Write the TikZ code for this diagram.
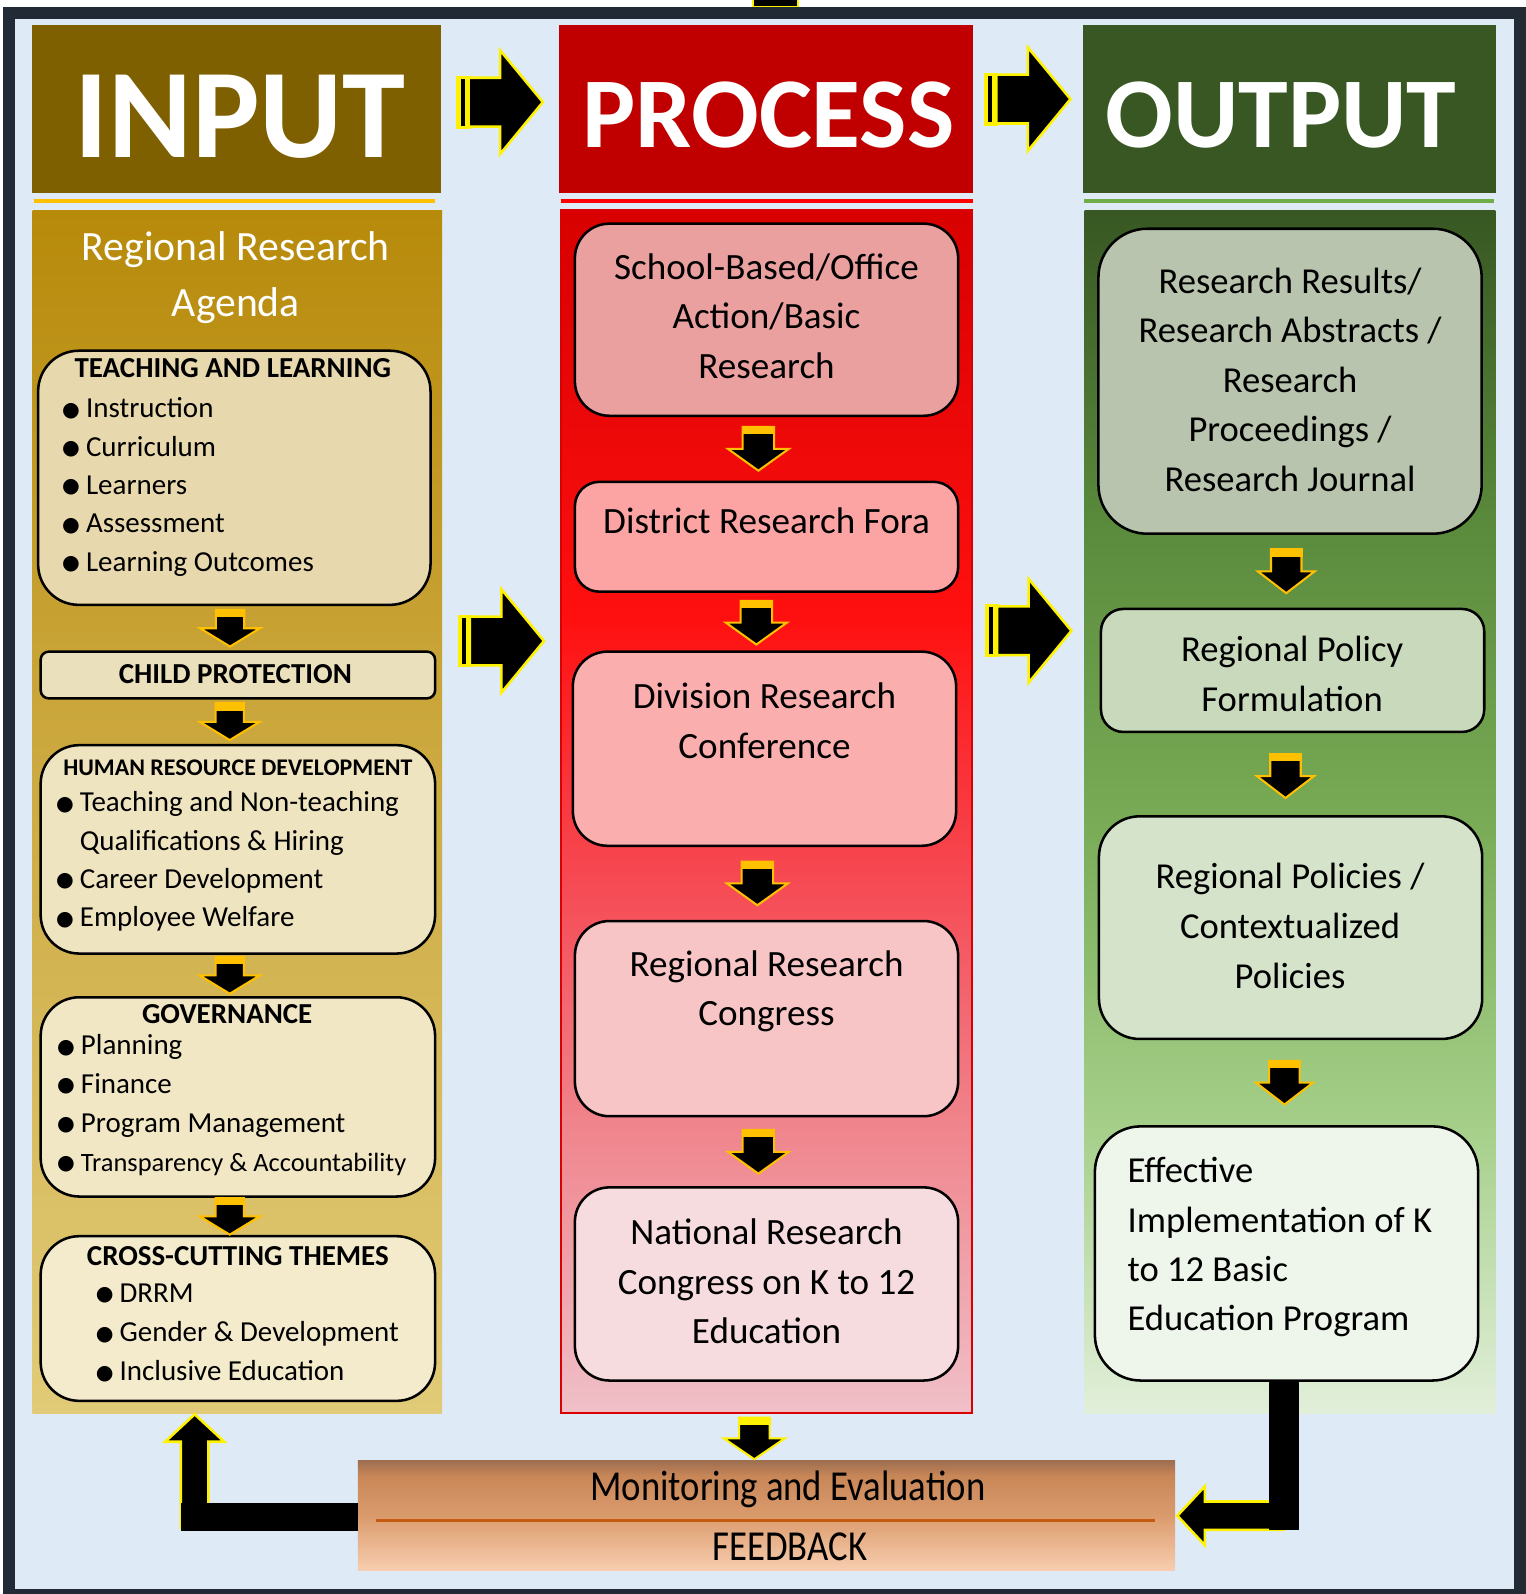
\documentclass[tikz,border=0pt]{standalone}
\usepackage{fontspec}
\setmainfont{Carlito}
\newfontfamily\dejavu{DejaVu Sans}
\usetikzlibrary{calc}

\definecolor{framegrey}{HTML}{222A35}
\definecolor{paleblue}{HTML}{DEEAF6}
\definecolor{gold}{HTML}{FFC000}
\definecolor{inhead}{HTML}{7F6000}
\definecolor{prochead}{HTML}{C00000}
\definecolor{outhead}{HTML}{385723}
\definecolor{procred}{HTML}{FF0000}
\definecolor{procrim}{HTML}{D80000}
\definecolor{outgreen}{HTML}{70AD47}
\definecolor{fbline}{HTML}{C55A11}
% column shadings
\definecolor{inbot}{HTML}{E1CB78}
\definecolor{inmid}{HTML}{CEAC45}
\definecolor{intop}{HTML}{B78A0A}
\definecolor{procbot}{HTML}{F0C0C8}
\definecolor{procpink}{HTML}{F0848C}
\definecolor{procrose}{HTML}{F5505A}
\definecolor{procbright}{HTML}{FF1010}
\definecolor{proctop}{HTML}{D80000}
\definecolor{outbot}{HTML}{E2EFDA}
\definecolor{outpale}{HTML}{A5CF89}
\definecolor{outmid}{HTML}{78AA55}
\definecolor{outdeep}{HTML}{5A8A3C}
\definecolor{outtop}{HTML}{385723}
\definecolor{fbbot}{HTML}{F8CEB0}
\definecolor{fbmid}{HTML}{DA9B6C}
\definecolor{fbwarm}{HTML}{C98758}
\definecolor{fbtop}{HTML}{9E6F50}
% box fills
\definecolor{tlfill}{HTML}{E8D8AD}
\definecolor{cpfill}{HTML}{EBE0BC}
\definecolor{hrdfill}{HTML}{EFE4C0}
\definecolor{govfill}{HTML}{F1E7C5}
\definecolor{cctfill}{HTML}{F3EBCC}
\definecolor{pbfilla}{HTML}{EBA0A0}
\definecolor{pbfillb}{HTML}{FCA4A4}
\definecolor{pbfillc}{HTML}{FBAEAE}
\definecolor{pbfilld}{HTML}{F8C5C7}
\definecolor{pbfille}{HTML}{F6DCDF}
\definecolor{obfilla}{HTML}{B8C4AE}
\definecolor{obfillb}{HTML}{C8D9BC}
\definecolor{obfillc}{HTML}{D4E3C9}
\definecolor{obfilld}{HTML}{EEF5EA}

\pgfdeclareverticalshading{inshade}{100bp}{color(0bp)=(inbot); color(25bp)=(inbot); color(50bp)=(inmid); color(75bp)=(intop); color(100bp)=(intop)}
\pgfdeclareverticalshading{procshade}{100bp}{color(0bp)=(procbot); color(25bp)=(procbot); color(37bp)=(procpink); color(46bp)=(procrose); color(58bp)=(procbright); color(75bp)=(proctop); color(100bp)=(proctop)}
\pgfdeclareverticalshading{outshade}{100bp}{color(0bp)=(outbot); color(25bp)=(outbot); color(37bp)=(outpale); color(50bp)=(outmid); color(62bp)=(outdeep); color(75bp)=(outtop); color(100bp)=(outtop)}
\pgfdeclareverticalshading{fbshade}{100bp}{color(0bp)=(fbbot); color(25bp)=(fbbot); color(50bp)=(fbmid); color(68bp)=(fbwarm); color(75bp)=(fbtop); color(100bp)=(fbtop)}

\newcommand\bul{\raisebox{1.5pt}{\dejavu\fontsize{20}{20}\selectfont ●}\hspace{6pt}}
\newcommand\narrow[1]{\scalebox{0.86}[1]{#1}}

\tikzset{
  pics/rarr/.style={code={
    \fill[yellow] (-43,-26) rectangle (-29,26);
    \fill[black] (-39,-23) rectangle (-35,23);
    \draw[yellow, line width=2.5, fill=black] (-31,-24) -- (0,-24) -- (0,-51) -- (42,0) -- (0,51) -- (0,24) -- (-31,24) -- cycle;
  }},
  pics/dnarr/.style n args={4}{code={
    \draw[#4, line width=2, fill=black] (-#1,-#3) -- (#1,-#3) -- (#1,0) -- (#2,0) -- (0,#3) -- (-#2,0) -- (-#1,0) -- cycle;
    \fill[#4] (-#1-1,-#3-1) rectangle (#1+1,-#3+7);
  }},
}

\begin{document}
\begin{tikzpicture}[x=1pt, y=-1pt,
  hdr/.style={inner sep=0, minimum width=403, minimum height=165},
  hdrtxt/.style={text=white, anchor=base, inner sep=0},
  body/.style={inner sep=0, minimum width=404, minimum height=1183, shade},
  ibox/.style={draw, line width=2.5, rounded corners=38, inner sep=0, minimum width=386},
  pbox/.style={draw, line width=2.5, rounded corners=34, inner sep=0, minimum width=377},
  obox/.style={draw, line width=2.5, rounded corners=42, inner sep=0, minimum width=377},
  ttl/.style={font=\fontsize{28.5}{34}\selectfont\bfseries, inner sep=0},
  itm/.style={font=\fontsize{28.5}{37.8}\selectfont, align=left, anchor=west, inner sep=0},
  big/.style={font=\fontsize{36.5}{48.5}\selectfont, align=center, inner sep=0},
]
\useasboundingbox (0,0) rectangle (1501,1568);

% frame
\draw[yellow, line width=2, fill=black] (741,-6) rectangle (785,7);
\fill[framegrey] (3,7) rectangle (1501,1568);
\fill[paleblue] (15,19) rectangle (1489,1563);

% headers
\node[hdr, fill=inhead] (inhead) at (232.5,107.5) {};
\node[hdr, fill=prochead, minimum width=407] (prochead) at (753.5,107.5) {};
\node[hdr, fill=outhead, minimum width=407] (outhead) at (1268.5,107.5) {};
\node[hdrtxt, font=\fontsize{125}{125}\selectfont\bfseries] (intxt) at (236,155) {INPUT};
\node[hdrtxt, font=\fontsize{98.5}{98.5}\selectfont\bfseries] (proctxt) at (756,145) {PROCESS};
\node[hdrtxt, font=\fontsize{98.5}{98.5}\selectfont\bfseries] (outtxt) at (1260,145) {OUTPUT};
\fill[gold] (33,196) rectangle (428,200);
\fill[procred] (552,196) rectangle (957,200);
\fill[outgreen] (1066,196) rectangle (1470,200);

% column bodies
\node[body, shading=inshade, minimum width=403] (inbody) at (233.5,798.5) {};
\node[body, shading=procshade, draw=procrim, line width=2] (procbody) at (754,798.5) {};
\node[body, shading=outshade] (outbody) at (1269,798.5) {};

% input column
\node[text=white, font=\fontsize{41}{55}\selectfont, align=center] (agenda) at (232,273) {Regional Research\\Agenda};
\node[ibox, fill=tlfill, minimum height=250, rounded corners=40] (tl) at (230.5,470) {};
\node[ttl] (tlt) at (229,362) {TEACHING AND LEARNING};
\node[itm] (tli) at (61,479) {\bul Instruction\\\bul Curriculum\\\bul Learners\\\bul Assessment\\\bul Learning Outcomes};
\node[ibox, fill=cpfill, minimum width=388, minimum height=46, rounded corners=8] (cp) at (234,664) {};
\node[ttl] (cpt) at (231.5,663) {CHILD PROTECTION};
\node[ibox, fill=hrdfill, minimum width=388, minimum height=205] (hrd) at (234,835.5) {};
\node[ttl, font=\fontsize{23.5}{28}\selectfont\bfseries] (hrdt) at (234,755) {HUMAN RESOURCE DEVELOPMENT};
\node[itm] (hrdi) at (55,847.5) {\bul Teaching and Non-teaching\\\phantom{\bul}Qualifications \& Hiring\\\bul Career Development\\\bul Employee Welfare};
\node[ibox, fill=govfill, minimum width=388, minimum height=196] (gov) at (234,1079) {};
\node[ttl] (govt) at (223.5,998) {GOVERNANCE};
\node[itm, font=\fontsize{28.5}{38.3}\selectfont] (govi) at (56,1087) {\bul Planning\\\bul Finance\\\bul Program Management\\\bul {\fontsize{26}{38.3}\selectfont Transparency \& Accountability}};
\node[ibox, fill=cctfill, minimum width=388, minimum height=162] (cct) at (234,1297) {};
\node[ttl] (cctt) at (234,1236) {CROSS-CUTTING THEMES};
\node[itm, font=\fontsize{28.5}{38.5}\selectfont] (ccti) at (94,1311) {\bul DRRM\\\bul Gender \& Development\\\bul Inclusive Education};

\pic at ($(tl.south)!.5!(cp.north)+(-6,0)$) {dnarr={14}{29.5}{18}{gold}};
\pic at ($(cp.south)!.5!(hrd.north)+(-8,0)$) {dnarr={14}{29.5}{18}{gold}};
\pic at ($(hrd.south)!.5!(gov.north)+(-8,0)$) {dnarr={14}{29.5}{18}{gold}};
\pic at ($(gov.south)!.5!(cct.north)+(-8,0)$) {dnarr={14}{29.5}{18}{gold}};

% process column
\node[pbox, fill=pbfilla, minimum height=189] (pb1) at (754,314.5) {};
\node[big] (pb1t) at (754,311) {School-Based/Office\\Action/Basic\\Research};
\node[pbox, fill=pbfillb, minimum height=108, rounded corners=24] (pb2) at (754,528) {};
\node[big] (pb2t) at (754,512) {District Research Fora};
\node[pbox, fill=pbfillc, minimum height=191] (pb3) at (752,736.5) {};
\node[big] (pb3t) at (752,709) {Division Research\\Conference};
\node[pbox, fill=pbfilld, minimum height=192] (pb4) at (754,1002) {};
\node[big] (pb4t) at (754,975) {Regional Research\\Congress};
\node[pbox, fill=pbfille, minimum height=190] (pb5) at (754,1263) {};
\node[big] (pb5t) at (754,1260.5) {National Research\\Congress on K to 12\\Education};

\pic at ($(pb1.south)!.5!(pb2.north)+(-8,0)$) {dnarr={15.5}{30}{21.5}{gold}};
\pic at ($(pb2.south)!.5!(pb3.north)+(-9,1)$) {dnarr={15.5}{30}{21.5}{gold}};
\pic at ($(pb3.south)!.5!(pb4.north)+(-8,0)$) {dnarr={15.5}{30}{21.5}{gold}};
\pic at ($(pb4.south)!.5!(pb5.north)+(-8,0)$) {dnarr={15.5}{30}{21.5}{gold}};

% output column
\node[obox, fill=obfilla, minimum height=300, rounded corners=48] (ob1) at (1269,375) {};
\node[big, font=\fontsize{36}{48.75}\selectfont] (ob1t) at (1269,373.5) {Research Results/\\Research Abstracts /\\Research\\Proceedings /\\Research Journal};
\node[obox, fill=obfillb, minimum height=121, rounded corners=22] (ob2) at (1271.5,659.5) {};
\node[big, font=\fontsize{36}{50}\selectfont] (ob2t) at (1271,663) {Regional Policy\\Formulation};
\node[obox, fill=obfillc, minimum height=219, rounded corners=40] (ob3) at (1269.5,912.5) {};
\node[big, font=\fontsize{36}{49}\selectfont] (ob3t) at (1269,911) {Regional Policies /\\Contextualized\\Policies};
\node[obox, fill=obfilld, minimum height=250, rounded corners=45] (ob4) at (1265.5,1233) {};
\node[big, font=\fontsize{36}{48.5}\selectfont, align=left, anchor=west] (ob4t) at (1109,1227) {Effective\\Implementation of K\\to 12 Basic\\Education Program};

\pic at ($(ob1.south)!.5!(ob2.north)+(-5,0)$) {dnarr={15}{28}{21.5}{gold}};
\pic at ($(ob2.south)!.5!(ob3.north)+(-6,2)$) {dnarr={15}{28}{21.5}{gold}};
\pic at ($(ob3.south)!.5!(ob4.north)+(-4,0)$) {dnarr={15}{28}{21.5}{gold}};

% arrows between columns
\pic at ($(inhead.east)!.5!(prochead.west)+(0,-7)$) {rarr};
\pic at ($(prochead.east)!.5!(outhead.west)+(0,-10)$) {rarr};
\pic at ($(inbody.east)!.5!(procbody.west)+(0,-168)$) {rarr};
\pic at ($(procbody.east)!.5!(outbody.west)+(0,-178)$) {rarr};

% feedback
\node[inner sep=0, minimum width=804, minimum height=108, shade, shading=fbshade] (fb) at (754,1491) {};
\draw[fbline, line width=3] ($(fb.west)+(18,5)$) -- ($(fb.east)+(-20,5)$);
\node[big, font=\fontsize{42}{44}\selectfont] (fbt) at (775,1465) {\narrow{Monitoring and Evaluation}};
\node[big, font=\fontsize{42}{44}\selectfont] (fbk) at (777,1522) {\narrow{FEEDBACK}};
\pic at ($(procbody.south)!.5!(fb.north)+(-12,1)$) {dnarr={15}{30}{20.5}{yellow}};

% feedback loop back to input
\coordinate (lf) at ($(inbody.south)+(-42,0)$);
\draw[yellow, line width=2.5, fill=black] ($(fb.west -| lf)+(-13.5,12)$) -- ($(lf)+(-13.5,28)$) -- ($(lf)+(-29,28)$) -- ($(lf)+(0,1)$) -- ($(lf)+(29,28)$) -- ($(lf)+(13.5,28)$) -- ($(fb.west -| lf)+(13.5,12)$) -- cycle;
\fill[black] ($(fb.west)+(0,-13)$) rectangle ($(fb.west -| lf)+(-13.5,15)$);

% output down into feedback
\coordinate (rf) at ($(ob4.south)+(-2.5,0)$);
\draw[yellow, line width=2.5, fill=black] ($(fb.east)+(2,0)$) -- ($(fb.east)+(29,-29)$) -- ($(fb.east)+(29,-14)$) -- ($(fb.east -| rf)+(0,-14)$) -- ($(fb.east -| rf)+(0,14)$) -- ($(fb.east)+(29,14)$) -- ($(fb.east)+(29,29)$) -- cycle;
\fill[black] ($(rf)+(-15,-2)$) rectangle ($(fb.east -| rf)+(15,14)$);
\end{tikzpicture}
\end{document}
